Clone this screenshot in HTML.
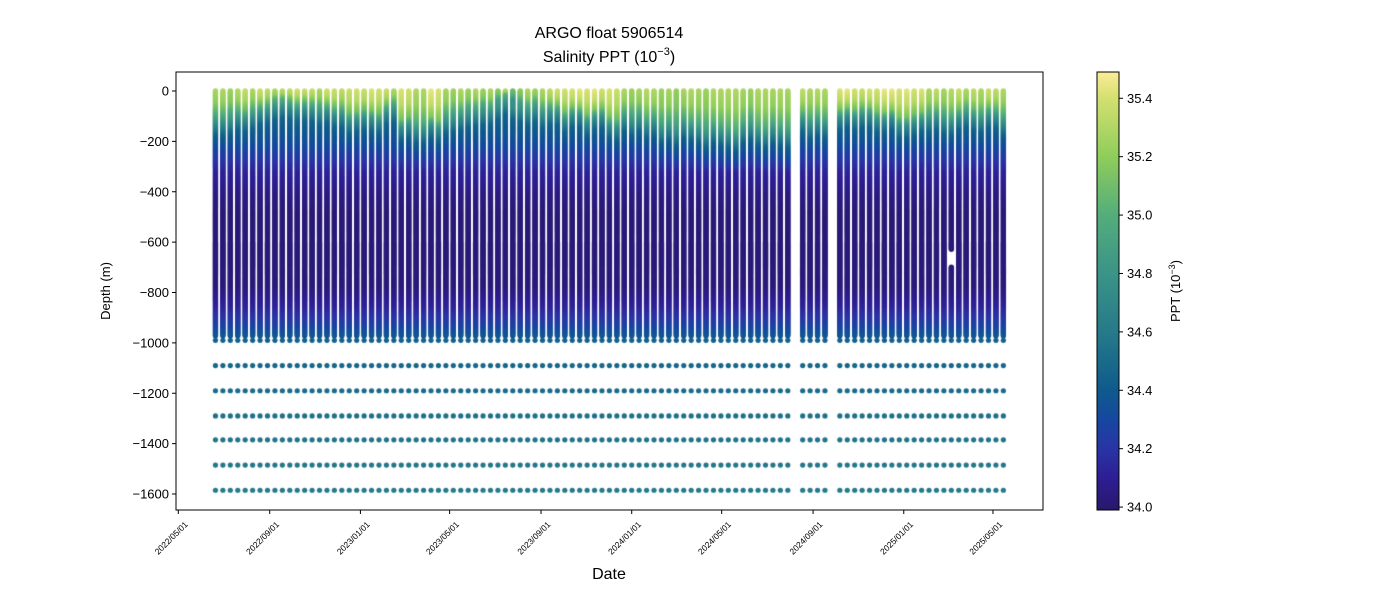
<!DOCTYPE html>
<html><head><meta charset="utf-8">
<style>
body{margin:0;background:#fff;font-family:"Liberation Sans","DejaVu Sans",sans-serif;}
#wrap{position:relative;width:1400px;height:600px;overflow:hidden;}
svg{position:absolute;left:0;top:0;}
canvas{position:absolute;left:0;top:0;}
</style></head><body>
<div id="wrap">
<canvas id="cv" width="1400" height="600"></canvas>
<svg id="sv" width="1400" height="600"></svg>
</div>
<script>
// ---- data ----
const profileDays = [50,60,70,80,90,100,110,120,130,140,150,160,170,180,190,200,210,220,230,240,250,260,270,280,290,300,310,320,330,340,350,360,370,380,390,400,410,420,430,440,450,460,470,480,490,500,510,520,530,540,550,560,570,580,590,600,610,620,630,640,650,660,670,680,690,700,710,720,730,740,750,760,770,780,790,800,810,820,840,850,860,870,890,900,910,920,930,940,950,960,970,980,990,1000,1010,1020,1030,1040,1050,1060,1070,1080,1090,1100,1110];
const surfaceSal = [35.28,35.3,35.25,35.32,35.36,35.3,35.38,35.35,35.3,35.33,35.36,35.4,35.38,35.36,35.3,35.4,35.38,35.35,35.38,35.4,35.38,35.42,35.4,35.38,35.3,35.42,35.4,35.3,35.3,35.45,35.42,35.28,35.25,35.3,35.25,35.3,35.25,35.3,35.2,35.32,35.1,35.2,35.3,35.25,35.3,35.35,35.4,35.4,35.42,35.45,35.42,35.45,35.4,35.42,35.38,35.3,35.25,35.28,35.32,35.3,35.25,35.28,35.22,35.28,35.3,35.28,35.25,35.3,35.3,35.3,35.3,35.28,35.25,35.3,35.3,35.28,35.3,35.28,35.35,35.3,35.32,35.3,35.42,35.45,35.4,35.38,35.42,35.4,35.45,35.45,35.42,35.44,35.4,35.42,35.3,35.35,35.28,35.32,35.38,35.3,35.35,35.3,35.38,35.35,35.3];
const mixDepth = [100,100,95,80,85,75,60,55,40,35,40,50,45,50,60,55,70,70,95,90,80,85,95,60,50,120,110,130,130,110,125,95,90,80,70,65,60,60,40,20,40,50,60,50,70,60,60,90,70,70,100,80,75,110,120,85,100,90,110,100,130,120,140,110,120,130,150,130,140,150,160,130,120,140,150,130,140,150,90,110,100,110,80,70,80,70,70,90,90,80,110,110,100,90,90,80,95,100,80,70,80,90,70,75,100];
const deepDepths = [990,1090,1190,1290,1385,1485,1585];
const deepSal = [34.44,34.47,34.50,34.53,34.56,34.58,34.60];
const gapProfile = 97, gapTop = 630, gapBottom = 700;
const yTicks = [0,-200,-400,-600,-800,-1000,-1200,-1400,-1600];
const xTickLabels = ["2022/05/01","2022/09/01","2023/01/01","2023/05/01","2023/09/01","2024/01/01","2024/05/01","2024/09/01","2025/01/01","2025/05/01"];
const xTickDays = [0,123,245,365,488,610,731,854,976,1096];
const cbTicks = [34.0,34.2,34.4,34.6,34.8,35.0,35.2,35.4];

// ---- scales ----
const PL=176,PR=1043,PT=72,PB=510;
const xS = d => 178.3 + d*0.7433;
const yS = z => 91 + (-z)*0.25188;
const VMIN=33.99, VMAX=35.49, CBT=72, CBB=510;
const cbY = v => CBB - (v-VMIN)/(VMAX-VMIN)*(CBB-CBT);
const cmap=[[33.99,[41,24,107]],[34.1,[45,30,148]],[34.2,[41,52,165]],[34.3,[21,72,160]],[34.4,[15,90,141]],[34.5,[26,107,138]],[34.6,[38,122,137]],[34.8,[58,148,135]],[35.0,[83,173,123]],[35.2,[143,205,91]],[35.4,[211,224,112]],[35.49,[251,236,152]]];
function col(v){v=Math.max(VMIN,Math.min(VMAX,v));for(let i=1;i<cmap.length;i++){if(v<=cmap[i][0]){const a=cmap[i-1],b=cmap[i],t=(v-a[0])/(b[0]-a[0]);return 'rgb('+a[1].map((c,k)=>Math.round(c+(b[1][k]-c)*t)).join(',')+')';}}return 'rgb(251,236,152)';}
function profileSal(s0,mld,z){
  const knots=[[0,s0],[mld*0.5,s0-0.08],[mld,s0-0.3],[mld+35,34.75],[mld+80,34.45],[Math.max(mld+130,230),34.3],[330,34.12],[420,34.05],[500,34.02],[780,34.03],[860,34.12],[930,34.25],[985,34.4]];
  const k=[knots[0]];for(let i=1;i<knots.length;i++){if(knots[i][0]>k[k.length-1][0])k.push(knots[i]);}
  for(let i=1;i<k.length;i++){if(z<=k[i][0]){const t=(z-k[i-1][0])/(k[i][0]-k[i-1][0]);return k[i-1][1]+(k[i][1]-k[i-1][1])*t;}}
  return k[k.length-1][1];
}
// ---- draw marks ----
const ctx=document.getElementById('cv').getContext('2d');
profileDays.forEach((d,i)=>{
  const x=xS(d);
  for(let z=0;z<=975;z+=4){
    if(i===gapProfile && z>gapTop && z<gapBottom) continue;
    ctx.fillStyle=col(profileSal(surfaceSal[i],mixDepth[i],z));
    ctx.beginPath();ctx.arc(x,yS(-z),2.7,0,Math.PI*2);ctx.fill();
  }
  deepDepths.forEach((dz,j)=>{
    ctx.fillStyle=col(deepSal[j]);
    ctx.beginPath();ctx.arc(x,yS(-dz),2.6,0,Math.PI*2);ctx.fill();
  });
});
// ---- axes (svg) ----
const NS='http://www.w3.org/2000/svg', sv=document.getElementById('sv');
function el(tag,attrs,parent){const e=document.createElementNS(NS,tag);for(const k in attrs)e.setAttribute(k,attrs[k]);(parent||sv).appendChild(e);return e;}
let e;
e=el('rect',{x:PL,y:PT,width:PR-PL,height:PB-PT,fill:'none',stroke:'#000','stroke-width':1});


yTicks.forEach(v=>{
  const y=yS(v);
  const l=el('line',{x1:PL-4,x2:PL,y1:y,y2:y,stroke:'#000'});
  
  
  const t=el('text',{x:PL-7,y:y+4.5,'text-anchor':'end','font-size':13,fill:'#000'});
  t.textContent=v===0?'0':'\u2212'+(-v);
  
  
});
xTickDays.forEach((d,i)=>{
  const x=xS(d);
  const l=el('line',{x1:x,x2:x,y1:PB,y2:PB+4,stroke:'#000'});
  
  
  const ax=x+10, ay=PB+15;
  const t=el('text',{x:ax,y:ay,'text-anchor':'end','font-size':8.5,fill:'#000',transform:'rotate(-45 '+ax+' '+ay+')'});
  t.textContent=xTickLabels[i];
  
  
});
// colorbar
const defs=el('defs',{});
const g=el('linearGradient',{id:'cbg',x1:0,y1:1,x2:0,y2:0},defs);
cmap.forEach(s=>{el('stop',{offset:((s[0]-VMIN)/(VMAX-VMIN)).toFixed(4),'stop-color':col(s[0])},g);});
e=el('rect',{x:1097,y:CBT,width:22,height:CBB-CBT,fill:'url(#cbg)',stroke:'#000','stroke-width':1});


cbTicks.forEach(v=>{
  const y=cbY(v);
  const l=el('line',{x1:1119,x2:1123,y1:y,y2:y,stroke:'#000'});
  
  
  const t=el('text',{x:1127,y:y+4.5,'font-size':13,fill:'#000'});
  t.textContent=v.toFixed(1);
  
  
});
</script>
<svg width="1400" height="600" style="position:absolute;left:0;top:0;pointer-events:none">
<text x="609" y="38" text-anchor="middle" font-size="16">ARGO float 5906514</text>
<text x="609" y="62" text-anchor="middle" font-size="16">Salinity PPT (10<tspan dy="-7" font-size="11">−3</tspan><tspan dy="7">)</tspan></text>
<text x="609" y="579" text-anchor="middle" font-size="16">Date</text>
<text transform="translate(110 291) rotate(-90)" text-anchor="middle" font-size="13">Depth (m)</text>
<text transform="translate(1180 291) rotate(-90)" text-anchor="middle" font-size="13">PPT (10<tspan dy="-5" font-size="9">−3</tspan><tspan dy="5">)</tspan></text>
</svg>
</body></html>
